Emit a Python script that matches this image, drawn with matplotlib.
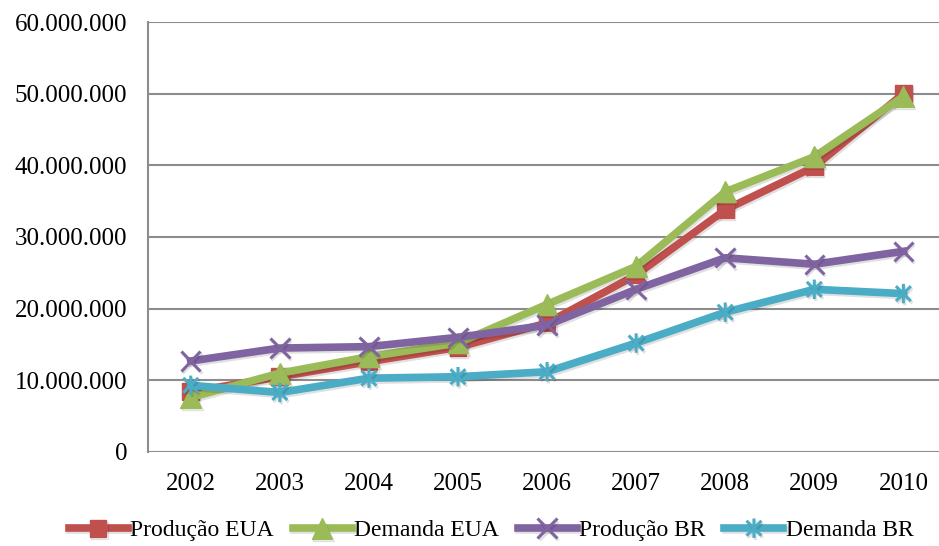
import matplotlib.pyplot as plt
import matplotlib.patheffects as pe
from matplotlib.path import Path
from matplotlib.ticker import FuncFormatter

years = ["2002", "2003", "2004", "2005", "2006", "2007", "2008", "2009", "2010"]
producao_eua = [8.4e6, 10.5e6, 12.6e6, 14.6e6, 18.0e6, 24.7e6, 33.8e6, 39.8e6, 50.0e6]
demanda_eua = [7.6e6, 11.0e6, 13.3e6, 15.2e6, 20.6e6, 25.9e6, 36.3e6, 41.2e6, 49.6e6]
producao_br = [12.7e6, 14.5e6, 14.7e6, 16.0e6, 17.7e6, 22.7e6, 27.1e6, 26.2e6, 28.0e6]
demanda_br = [9.3e6, 8.3e6, 10.3e6, 10.5e6, 11.2e6, 15.2e6, 19.5e6, 22.7e6, 22.1e6]

plt.rcParams["font.family"] = ["Liberation Serif", "DejaVu Serif"]

# X with a vertical bar through it
star = Path(
    [(-1, -1), (1, 1), (-1, 1), (1, -1), (0, -1.3), (0, 1.3)],
    [Path.MOVETO, Path.LINETO, Path.MOVETO, Path.LINETO, Path.MOVETO, Path.LINETO],
)

series = [
    ("Produção EUA", producao_eua, "#C0504D", dict(marker="s", markersize=12)),
    ("Demanda EUA", demanda_eua, "#9BBB59", dict(marker="^", markersize=15)),
    ("Produção BR", producao_br, "#8064A2", dict(marker="x", markersize=14, markeredgewidth=2.2)),
    ("Demanda BR", demanda_br, "#4BACC6", dict(marker=star, markersize=14, markeredgewidth=2.2)),
]

fig = plt.figure(figsize=(9.39, 5.46), dpi=100)
ax = fig.add_axes([0.1576, 0.1722, 0.850, 0.7875])

shadow = [pe.SimpleLineShadow(offset=(1, -1.5), alpha=0.12), pe.Normal()]
x = range(len(years))
for label, vals, color, mk in series:
    ax.plot(x, vals, color=color, linewidth=5.5, label=label,
            markerfacecolor=color, markeredgecolor=color,
            solid_joinstyle="round", path_effects=shadow, **mk)

ax.set_xlim(-0.48, len(years) - 0.52)
ax.set_ylim(0, 60e6)
ax.set_yticks([i * 10e6 for i in range(7)])
ax.yaxis.set_major_formatter(FuncFormatter(lambda v, _: f"{int(v):,}".replace(",", ".")))
ax.set_xticks(list(x))
ax.set_xticklabels(years)
ax.tick_params(length=0, labelsize=18, colors="black")
ax.tick_params(axis="y", pad=15)
ax.tick_params(axis="x", pad=15)

ax.grid(axis="y", color="#8C8C8C", linewidth=1.5)
ax.set_axisbelow(True)
for side in ("top", "right", "bottom"):
    ax.spines[side].set_visible(False)
ax.spines["left"].set_color("#8C8C8C")
ax.spines["left"].set_linewidth(1.5)

fig.legend(loc="center", bbox_to_anchor=(0.523, 0.028), ncol=4, frameon=False,
           fontsize=17, handlelength=2.5, handletextpad=0.1, columnspacing=0.8,
           borderpad=0)

fig.savefig("out.png", dpi=100)
